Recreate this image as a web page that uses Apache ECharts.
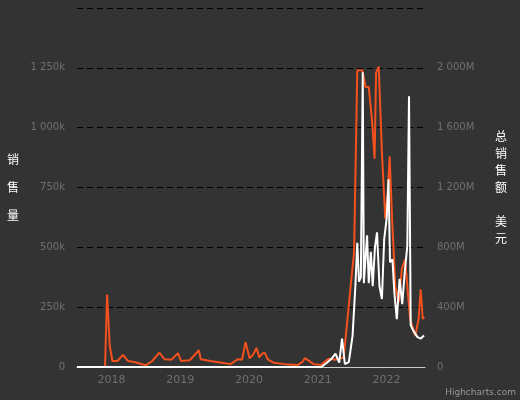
<!DOCTYPE html>
<html><head><meta charset="utf-8">
<script src="https://cdn.jsdelivr.net/npm/echarts@6/dist/echarts.min.js"></script>
<style>html,body{margin:0;background:#333333;}#main{width:520px;height:400px;}</style>
</head><body><div id="main"></div>
<script>
// 销售量 (k)
var salesDates = ['2017-07-01','2017-11-27','2017-12-08','2017-12-22','2018-01-05','2018-02-01','2018-03-02','2018-03-30','2018-05-01','2018-07-01','2018-08-05','2018-09-12','2018-10-10','2018-11-15','2018-12-20','2019-01-05','2019-02-20','2019-04-10','2019-04-20','2019-06-10','2019-08-10','2019-09-25','2019-11-01','2019-11-25','2019-12-14','2020-01-05','2020-01-25','2020-02-10','2020-02-25','2020-03-10','2020-03-25','2020-04-10','2020-05-10','2020-07-10','2020-09-15','2020-10-10','2020-10-25','2020-12-10','2021-01-20','2021-02-03','2021-03-01','2021-04-01','2021-05-19','2021-06-25','2021-07-13','2021-07-30','2021-08-26','2021-09-12','2021-09-29','2021-10-16','2021-10-30','2021-11-07','2021-11-21','2021-12-08','2021-12-26','2022-01-08','2022-01-18','2022-01-31','2022-02-17','2022-03-07','2022-03-24','2022-04-10','2022-05-07','2022-06-03','2022-06-21','2022-07-02','2022-07-13','2022-07-20'];
var salesValues = [0,0,303,90,25,25,50,25,21,7,25,60,32,30,58,25,28,70,32,25,18,12,32,30,104,36,54,80,40,55,60,32,18,12,8,20,37,12,8,20,35,30,40,340,480,1240,1240,1170,1170,1035,870,1230,1255,895,620,730,880,620,340,270,410,450,200,130,200,325,200,210];
// 总销售额 (M 美元)
var usdDates = ['2017-07-01','2021-01-20','2021-02-20','2021-03-15','2021-04-05','2021-04-25','2021-05-10','2021-05-25','2021-06-15','2021-07-05','2021-07-20','2021-07-30','2021-08-08','2021-08-18','2021-08-28','2021-09-03','2021-09-20','2021-09-29','2021-10-10','2021-10-20','2021-11-01','2021-11-12','2021-11-25','2021-12-08','2021-12-20','2022-01-02','2022-01-12','2022-01-20','2022-02-02','2022-02-12','2022-02-25','2022-03-12','2022-03-26','2022-04-08','2022-04-22','2022-05-01','2022-05-10','2022-05-25','2022-06-15','2022-07-03','2022-07-20'];
var usdValues = [0,0,30,55,90,30,190,20,33,210,545,830,570,600,1970,560,880,560,770,540,800,900,540,455,855,990,1255,700,720,500,320,590,420,630,810,1810,280,240,200,190,210];

function pairs(d, v){ return d.map(function(x,i){ return [x, v[i]]; }); }
function spaced(v){ return String(v).replace(/\B(?=(\d{3})+(?!\d))/g, ' '); }

var myChart = echarts.init(document.getElementById('main'));
var option = {
    backgroundColor: '#333333',
    animation: false,
    grid: {left: 77, right: 95, top: 8, bottom: 33},
    xAxis: {
        type: 'time', min: '2017-07-01', max: '2022-07-25',
        splitNumber: 5,
        axisLine: {lineStyle: {color: '#cccccc'}},
        axisTick: {show: false},
        splitLine: {show: false},
        axisLabel: {color: '#707070', fontSize: 11, fontFamily: 'DejaVu Sans',
            formatter: function(v){ var d = new Date(v); return (d.getMonth() === 0 && d.getDate() === 1) ? String(d.getFullYear()) : ''; }}
    },
    yAxis: [{
        type: 'value', min: 0, max: 1500, interval: 250,
        name: '销\n\n售\n\n量', nameLocation: 'middle', nameRotate: 0, nameGap: 58,
        nameTextStyle: {color: '#ffffff', fontSize: 12, fontFamily: 'Noto Sans CJK SC', lineHeight: 14},
        axisLine: {show: false}, axisTick: {show: false},
        splitLine: {lineStyle: {color: '#000000', type: [6, 4]}},
        axisLabel: {color: '#707070', fontSize: 10, fontFamily: 'DejaVu Sans', margin: 12,
            formatter: function(v){ if (v === 1500) return ''; if (v === 0) return '0'; return spaced(v) + 'k'; }}
    }, {
        type: 'value', min: 0, max: 2400, interval: 400,
        name: '总\n销\n售\n额\n\n美\n元', nameLocation: 'middle', nameRotate: 0, nameGap: 70,
        nameTextStyle: {color: '#ffffff', fontSize: 12, fontFamily: 'Noto Sans CJK SC', lineHeight: 17},
        axisLine: {show: false}, axisTick: {show: false},
        splitLine: {show: false},
        axisLabel: {color: '#707070', fontSize: 10, fontFamily: 'DejaVu Sans', margin: 12,
            formatter: function(v){ if (v === 2400) return ''; if (v === 0) return '0'; return spaced(v) + 'M'; }}
    }],
    graphic: [{type: 'text', right: 4, bottom: 3, style: {text: 'Highcharts.com', fill: '#999999', fontSize: 9, fontFamily: 'DejaVu Sans'}}],
    series: [{
        name: '销售量', type: 'line', yAxisIndex: 0, showSymbol: false,
        lineStyle: {color: '#f4511e', width: 2}, itemStyle: {color: '#f4511e'},
        data: pairs(salesDates, salesValues)
    }, {
        name: '总销售额', type: 'line', yAxisIndex: 1, showSymbol: false,
        lineStyle: {color: '#ffffff', width: 2}, itemStyle: {color: '#ffffff'},
        data: pairs(usdDates, usdValues)
    }]
};
myChart.setOption(option);
</script></body></html>
